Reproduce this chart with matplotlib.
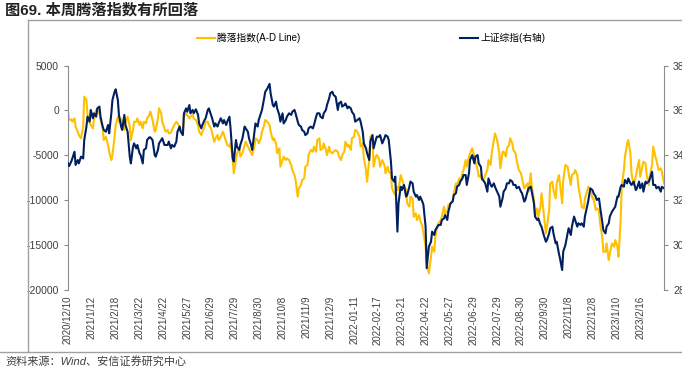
import matplotlib
matplotlib.use("Agg")
import matplotlib.pyplot as plt
from matplotlib.lines import Line2D

plt.rcParams['font.family'] = ['Liberation Sans', 'Noto Sans CJK SC']
plt.rcParams['axes.unicode_minus'] = False

# trading-day index (0 = 2020/12/10)
day = [
    0, 1, 3, 4, 6, 7, 9, 10, 12, 14, 15, 17, 18, 20, 21, 23, 24, 26, 27, 29,
    30, 32, 33, 35, 37, 38, 40, 41, 43, 44, 46, 47, 49, 50, 52, 53, 55, 57, 58, 60,
    61, 63, 64, 66, 67, 69, 70, 72, 73, 75, 76, 78, 80, 81, 83, 84, 86, 87, 89, 90,
    92, 93, 95, 96, 98, 100, 101, 103, 104, 106, 107, 109, 110, 112, 113, 115, 116, 118, 120, 121,
    123, 124, 126, 127, 129, 130, 132, 133, 135, 136, 138, 139, 141, 143, 144, 146, 147, 149, 150, 152,
    153, 155, 156, 158, 159, 161, 163, 164, 166, 167, 169, 170, 172, 173, 175, 176, 178, 179, 181,
    182, 184, 186, 187, 189, 190, 192, 193, 195, 196, 198, 199, 201, 202, 204, 206, 207, 209, 210, 212,
    213, 215, 216, 218, 219, 221, 222, 224, 226, 227, 229, 230, 232, 233, 235, 236, 238, 239, 241, 242,
    244, 245, 247, 249, 250, 252, 253, 255, 256, 258, 259, 261, 262, 264, 265, 267, 269, 270, 272, 273,
    275, 276, 278, 279, 281, 282, 284, 285, 287, 288, 290, 292, 293, 295, 296, 298, 299, 301, 302, 304,
    305, 307, 308, 310, 312, 313, 315, 316, 318, 319, 321, 322, 324, 325, 327, 328, 330, 331, 333, 335,
    336, 338, 339, 341, 342, 344, 345, 347, 348, 350, 351, 353, 355, 356, 358, 359, 361, 362, 364, 365,
    367, 368, 370, 371, 373, 375, 376, 378, 379, 381, 382, 384, 385, 387, 388, 390, 391, 393, 394, 396,
    398, 399, 401, 402, 404, 405, 407, 408, 410, 411, 413, 414, 416, 418, 419, 421, 422, 424, 425, 427,
    428, 430, 431, 433, 434, 436, 437, 439, 441, 442, 444, 445, 447, 448, 450, 451, 453, 454, 456, 457,
    459, 461, 462, 464, 465, 467, 468, 470, 471, 473, 474, 476, 477, 479, 480, 482, 484, 485, 487, 488,
    490, 491, 493, 494, 496, 497, 499, 500, 502, 504, 505, 507, 508, 510, 511, 513, 514, 516, 517, 519,
    520, 522, 524, 525, 527, 528, 530, 531, 533, 534, 536, 537, 539, 540, 542, 543, 545, 547, 548, 550,
]

ad_line = [
    -140, -1070, -1000, -1260, -890, -1810, -2370, -2740, -3110, -1810,
    1530, 1160, -510, -1440, -1630, -2000, -890, 40, -330, 40,
    -1070, -2000, -3300, -2930, -3860, -4600, -5530, -4970, -2930, -1630,
    -700, -1260, -890, -1440, -2180, -1260, -700, -1810, -3300, -2180,
    -1260, -1260, -890, -1630, -1260, -2000, -1260, -1440, -890, -510,
    -140, -1070, -2370, -2180, -890, 230, -330, -1260, -2000, -2370,
    -2180, -2560, -2480, -2180, -1630, -1260, -1440, -1810, -2180, -2560,
    -700, -330, -510, -890, -700, -510, -890, -1070, -1630, -2370,
    -2740, -2370, -1810, -1260, -1260, -1630, -2000, -2560, -3480, -3110,
    -2740, -3300, -2930, -2370, -2740, -3480, -3860, -4040, -3670, -5530,
    -7010, -5530, -4780, -4230, -5150, -4780, -3860, -3480, -4040, -4230,
    -4780, -4970, -4040, -3110, -3300, -3670, -3110, -2370, -1630,
    -1070, -1260, -1630, -2370, -3300, -3110, -3670, -4780, -4230, -6270,
    -5530, -5150, -5530, -5340, -5530, -6080, -6640, -7200, -7750, -9610,
    -8680, -8310, -7750, -7570, -6270, -6080, -4970, -4410, -4600, -4040,
    -4600, -3300, -3110, -4410, -4230, -3670, -4410, -4970, -4040, -4600,
    -4780, -4600, -4410, -4600, -5150, -5530, -4970, -4600, -3480, -4040,
    -3860, -4410, -3110, -2930, -2180, -2370, -2930, -4040, -3670, -5340,
    -6640, -7940, -5530, -2930, -2740, -6270, -5150, -4970, -5340, -6270,
    -5530, -6080, -7010, -6270, -6830, -7010, -8680, -9240, -9420, -8500,
    -8870, -7200, -7570, -8310, -8870, -10350, -10720, -9610, -9800, -11840,
    -11470, -12210, -11650, -12210, -12950, -13700, -15180, -17040, -18150, -16290,
    -15180, -15740, -14070, -12770, -12580, -12210, -11840, -10720, -11470, -11280,
    -10540, -10350, -9980, -9240, -8130, -8310, -7570, -7940, -7010, -6640,
    -5530, -6270, -5150, -4780, -4230, -5150, -5710, -6640, -7380, -7200,
    -7750, -7570, -7200, -6640, -5530, -6080, -4780, -3300, -2560, -3300,
    -4780, -6450, -4600, -4600, -5150, -4230, -3860, -3110, -3670, -4410,
    -4780, -5530, -6640, -7010, -7570, -8680, -8500, -8130, -9050, -7010,
    -8500, -9980, -11840, -10910, -11840, -10720, -9240, -11470, -13700, -12950,
    -11100, -8130, -7940, -8870, -9800, -8130, -7200, -8130, -10350, -7750,
    -6080, -6270, -7010, -8310, -7200, -7010, -6640, -7200, -8500, -9800,
    -10720, -10910, -9800, -9050, -8500, -8870, -9800, -9800, -11100, -10910,
    -11100, -12580, -14070, -15740, -15740, -14810, -16670, -15920, -14810, -15180,
    -14440, -15180, -16290, -12210, -8500, -6640, -5150, -3670, -3300, -4780,
    -7010, -8310, -7380, -6640, -5530, -7380, -6270, -5710, -5900, -7200,
    -8310, -7200, -6080, -4040, -5150, -5530, -6640, -6450, -6830, -8130,
]

sh_index = [
    3364, 3352, 3372, 3386, 3416, 3357, 3379, 3364, 3394, 3386,
    3468, 3528, 3572, 3550, 3602, 3565, 3587, 3572, 3609, 3617,
    3572, 3528, 3513, 3505, 3535, 3498, 3587, 3646, 3683, 3694,
    3646, 3580, 3528, 3513, 3580, 3535, 3505, 3394, 3364, 3438,
    3453, 3431, 3446, 3409, 3401, 3364, 3424, 3431, 3468, 3480,
    3480, 3468, 3401, 3394, 3424, 3453, 3468, 3476, 3446, 3446,
    3446, 3461, 3431, 3446, 3438, 3461, 3505, 3528, 3505, 3490,
    3587, 3609, 3594, 3624, 3587, 3602, 3587, 3605, 3580, 3542,
    3520, 3535, 3557, 3565, 3602, 3609, 3580, 3565, 3528, 3542,
    3528, 3542, 3565, 3542, 3557, 3535, 3550, 3572, 3520, 3386,
    3372, 3468, 3438, 3424, 3446, 3476, 3528, 3520, 3505, 3476,
    3446, 3424, 3505, 3542, 3528, 3557, 3587, 3602, 3654,
    3683, 3698, 3718, 3676, 3624, 3617, 3639, 3609, 3580, 3550,
    3587, 3542, 3557, 3572, 3587, 3580, 3594, 3602, 3587, 3550,
    3535, 3528, 3513, 3505, 3490, 3498, 3520, 3528, 3520, 3535,
    3572, 3587, 3587, 3572, 3565, 3587, 3602, 3624, 3654, 3676,
    3683, 3669, 3661, 3602, 3631, 3639, 3617, 3624, 3631, 3609,
    3617, 3609, 3594, 3580, 3550, 3557, 3565, 3550, 3505, 3453,
    3431, 3409, 3379, 3461, 3490, 3431, 3468, 3483, 3483, 3490,
    3453, 3476, 3490, 3483, 3468, 3372, 3297, 3283, 3305, 3060,
    3186, 3260, 3245, 3268, 3216, 3223, 3260, 3283, 3275, 3238,
    3216, 3223, 3201, 3216, 3194, 3179, 3082, 2897, 2993, 3015,
    3060, 3045, 3067, 3082, 3090, 3090, 3112, 3119, 3134, 3112,
    3149, 3186, 3194, 3223, 3231, 3260, 3268, 3283, 3297, 3312,
    3312, 3268, 3320, 3379, 3401, 3364, 3394, 3401, 3364, 3349,
    3297, 3283, 3275, 3238, 3297, 3268, 3260, 3275, 3260, 3238,
    3216, 3171, 3208, 3238, 3253, 3275, 3275, 3290, 3283, 3268,
    3268, 3253, 3260, 3238, 3231, 3194, 3201, 3238, 3253, 3260,
    3238, 3186, 3127, 3112, 3119, 3090, 3082, 3045, 3015, 3023,
    3052, 3075, 3082, 3052, 3008, 3015, 2963, 2941, 2889, 2971,
    3000, 3052, 3075, 3045, 3082, 3127, 3112, 3082, 3097, 3090,
    3097, 3082, 3127, 3171, 3194, 3253, 3245, 3231, 3216, 3201,
    3208, 3171, 3104, 3067, 3052, 3082, 3097, 3127, 3149, 3164,
    3171, 3216, 3216, 3260, 3268, 3260, 3290, 3275, 3297, 3275,
    3268, 3283, 3245, 3253, 3283, 3253, 3275, 3238, 3283, 3275,
    3283, 3297, 3327, 3268, 3268, 3253, 3260, 3238, 3260, 3253,
]

tick_labels = [
    '2020/12/10', '2021/1/12', '2021/2/18', '2021/3/22', '2021/4/22',
    '2021/5/27', '2021/6/29', '2021/7/29', '2021/8/30', '2021/10/8',
    '2021/11/9', '2021/12/9', '2022-01-11', '2022-02-17', '2022-03-21',
    '2022-04-22', '2022-05-27', '2022-06-29', '2022-07-29', '2022-08-30',
    '2022/9/30', '2022/11/8', '2022/12/8', '2023/1/10', '2023/2/16',
]
tick_pos = [22 * k for k in range(len(tick_labels))]

YELLOW = '#FFC000'
NAVY = '#002060'
GRID = '#8c8c8c'

fig = plt.figure(figsize=(6.82, 3.76), dpi=100)
ax = fig.add_axes([68 / 682, 1 - 290 / 376, (664 - 68) / 682, (290 - 65.5) / 376])
ax2 = ax.twinx()

l1, = ax.plot(day, ad_line, color=YELLOW, lw=1.5, label='腾落指数(A-D Line)')
l2, = ax2.plot(day, sh_index, color=NAVY, lw=1.5, label='上证综指(右轴)')

ax.set_xlim(0, 550)
ax.set_ylim(-20000, 5000)
ax.set_yticks(range(-20000, 5001, 5000))
ax2.set_ylim(2800, 3800)
ax2.set_yticks(range(2800, 3801, 200))

ax.set_xticks(tick_pos)
ax.set_xticklabels(tick_labels, rotation=90, fontsize=7, color='#404040')
ax.tick_params(axis='x', length=0, pad=4)
ax.tick_params(axis='y', labelsize=7.5, colors='#404040', length=3, width=0.8, color=GRID)
ax2.tick_params(axis='y', labelsize=7.5, colors='#404040', length=3, width=0.8, color=GRID)

for a in (ax, ax2):
    a.spines['top'].set_visible(False)
    a.spines['bottom'].set_visible(False)
    a.spines['left'].set_color(GRID)
    a.spines['right'].set_color(GRID)
ax2.spines['left'].set_visible(False)
ax.spines['right'].set_visible(False)

leg_kw = dict(loc='center left', frameon=False, fontsize=7, handlelength=1.9,
              handletextpad=0.2, borderpad=0, borderaxespad=0)
fig.legend(handles=[l1], bbox_to_anchor=(197 / 682, 1 - 38 / 376), **leg_kw)
fig.legend(handles=[l2], bbox_to_anchor=(460 / 682, 1 - 38 / 376), **leg_kw)

# outer frame lines
frame_c = '#a0a0a0'
fig.add_artist(Line2D([28 / 682, 1], [1 - 20 / 376] * 2, color=frame_c, lw=1))
fig.add_artist(Line2D([28 / 682] * 2, [1 - 20 / 376, 1 - 352 / 376], color=frame_c, lw=1))
fig.add_artist(Line2D([0, 1], [1 - 352 / 376] * 2, color=frame_c, lw=1))

fig.text(5 / 682, 1 - 10 / 376, '图69. 本周腾落指数有所回落', fontsize=11,
         fontweight='bold', va='center', ha='left', color='#222222')
fig.text(5 / 682, 1 - 361 / 376, '资料来源：Wind、安信证券研究中心', fontsize=8,
         style='italic', va='center', ha='left', color='#404040')

fig.savefig('out.png', dpi=100)
